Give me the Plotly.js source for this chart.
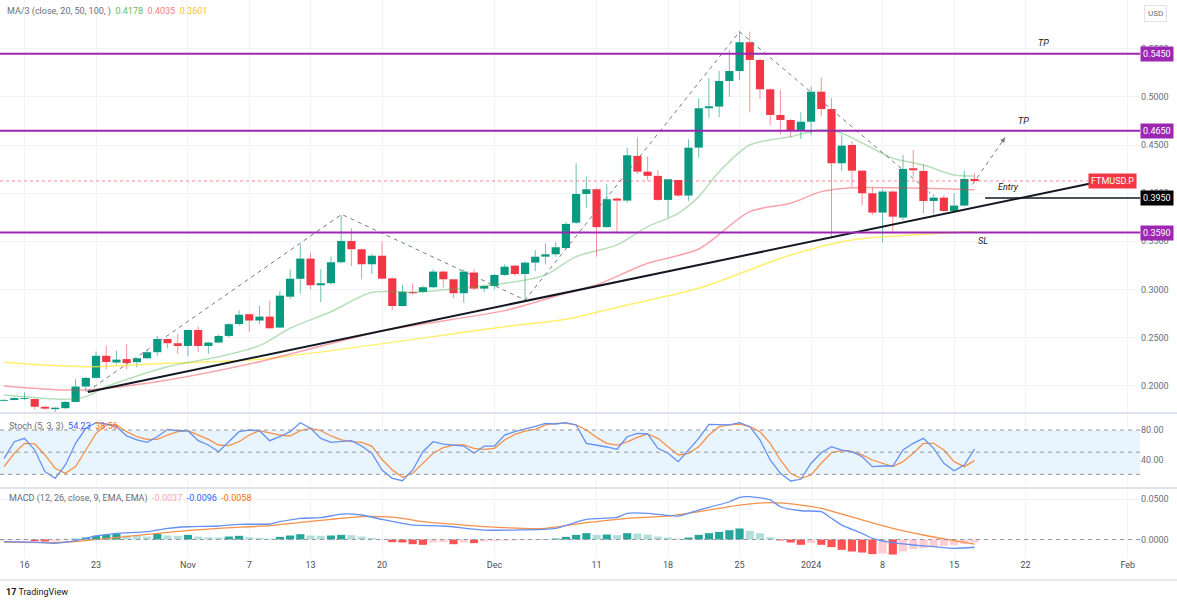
<!DOCTYPE html>
<html><head><meta charset="utf-8">
<script src="https://cdn.plot.ly/plotly-3.0.1.min.js"></script>
<style>html,body{margin:0;padding:0;background:#fff;}#chart{width:1177px;height:606px;}</style>
</head><body><div id="chart"></div>
<script>
// ---------- DATA ----------
const firstDay = '2023-10-14';
const openP  = [0.1842,0.1850,0.1862,0.1860,0.1780,0.1755,0.1765,0.1830,0.1990,0.2080,0.2310,0.2240,0.2275,0.2243,0.2284,0.2347,0.2484,0.2440,0.2412,0.2578,0.2412,0.2447,0.2516,0.2640,0.2742,0.2676,0.2717,0.2603,0.2924,0.3110,0.3320,0.3043,0.3064,0.3282,0.3503,0.3417,0.3261,0.3350,0.3115,0.2827,0.2973,0.2973,0.3022,0.3185,0.3105,0.2960,0.3175,0.3008,0.3035,0.3150,0.3247,0.3160,0.3278,0.3340,0.3365,0.3430,0.3693,0.3992,0.4041,0.3647,0.3944,0.3923,0.4387,0.4224,0.4180,0.3930,0.4137,0.3975,0.4473,0.4883,0.4900,0.5166,0.5270,0.5569,0.5385,0.5080,0.4813,0.4761,0.4657,0.4743,0.5055,0.4875,0.4311,0.4501,0.4234,0.3999,0.3798,0.4017,0.3746,0.4259,0.4231,0.3919,0.3954,0.3815,0.3871,0.4148];
const highP  = [0.1858,0.1880,0.1930,0.1865,0.1790,0.1780,0.1840,0.2066,0.2090,0.2353,0.2415,0.2364,0.2432,0.2290,0.2370,0.2516,0.2490,0.2536,0.2580,0.2613,0.2455,0.2530,0.2650,0.2786,0.2750,0.2827,0.2883,0.2983,0.3209,0.3469,0.3381,0.3210,0.3340,0.3773,0.3635,0.3425,0.3370,0.3497,0.3125,0.3046,0.3063,0.3040,0.3209,0.3195,0.3110,0.3209,0.3209,0.3040,0.3160,0.3260,0.3255,0.3290,0.3410,0.3479,0.3490,0.3700,0.4310,0.4172,0.4050,0.4096,0.3955,0.4473,0.4580,0.4380,0.4240,0.4150,0.4140,0.4560,0.4986,0.5194,0.5270,0.5489,0.5679,0.5679,0.5400,0.5090,0.5073,0.4770,0.4841,0.5107,0.5201,0.4990,0.4605,0.4540,0.4240,0.4060,0.4040,0.4030,0.4397,0.4449,0.4300,0.3990,0.3980,0.3999,0.4234,0.4207];
const lowP   = [0.1835,0.1845,0.1850,0.1750,0.1750,0.1710,0.1755,0.1825,0.1935,0.2075,0.2170,0.2218,0.2170,0.2190,0.2275,0.2308,0.2388,0.2329,0.2308,0.2349,0.2330,0.2440,0.2500,0.2620,0.2560,0.2640,0.2590,0.2595,0.2900,0.2960,0.3000,0.2869,0.3050,0.3270,0.3243,0.3105,0.3160,0.3105,0.2786,0.2820,0.2940,0.2965,0.3010,0.3020,0.2911,0.2862,0.2990,0.2970,0.3000,0.3140,0.3140,0.2890,0.3190,0.3260,0.3340,0.3420,0.3680,0.3850,0.3340,0.3640,0.3583,0.3900,0.4200,0.4130,0.3920,0.3750,0.3960,0.3920,0.4369,0.4779,0.4790,0.5003,0.5177,0.4841,0.4979,0.4709,0.4612,0.4580,0.4563,0.4600,0.4800,0.3531,0.4231,0.4068,0.3877,0.3773,0.3490,0.3600,0.3720,0.4170,0.3790,0.3780,0.3800,0.3810,0.3860,0.4120];
const closeP = [0.1848,0.1870,0.1868,0.1780,0.1760,0.1770,0.1830,0.1990,0.2080,0.2310,0.2245,0.2270,0.2234,0.2284,0.2347,0.2484,0.2440,0.2412,0.2578,0.2412,0.2447,0.2516,0.2638,0.2737,0.2676,0.2717,0.2596,0.2935,0.3111,0.3320,0.3043,0.3064,0.3282,0.3503,0.3417,0.3261,0.3350,0.3111,0.2827,0.2976,0.2960,0.3022,0.3185,0.3105,0.2960,0.3185,0.3008,0.3035,0.3150,0.3236,0.3160,0.3278,0.3340,0.3365,0.3438,0.3680,0.3992,0.4041,0.3647,0.3937,0.3923,0.4394,0.4224,0.4180,0.3930,0.4145,0.3975,0.4473,0.4883,0.4903,0.5166,0.5270,0.5569,0.5385,0.5080,0.4813,0.4761,0.4657,0.4743,0.5055,0.4875,0.4311,0.4494,0.4234,0.3999,0.3798,0.4017,0.3756,0.4252,0.4238,0.3919,0.3954,0.3815,0.3871,0.4148,0.4127];

const ma20Dates = ['2023-10-14','2023-10-20','2023-10-22','2023-10-24','2023-10-30','2023-11-04','2023-11-08','2023-11-11','2023-11-15','2023-11-19','2023-11-23','2023-11-26','2023-12-02','2023-12-06','2023-12-09','2023-12-13','2023-12-16','2023-12-19','2023-12-21','2023-12-23','2023-12-26','2023-12-30','2024-01-02','2024-01-04','2024-01-07','2024-01-09','2024-01-12','2024-01-15','2024-01-17'];
const ma20 = [0.1902,0.1858,0.1885,0.1989,0.2196,0.2300,0.2415,0.2596,0.2768,0.2970,0.2970,0.2994,0.3063,0.3150,0.3340,0.3462,0.3652,0.3791,0.3964,0.4223,0.4501,0.4587,0.4657,0.4623,0.4467,0.4363,0.4293,0.4189,0.4178];
const ma50Dates = ['2023-10-14','2023-10-20','2023-10-23','2023-10-30','2023-11-08','2023-11-20','2023-12-02','2023-12-08','2023-12-11','2023-12-16','2023-12-21','2023-12-26','2023-12-30','2024-01-02','2024-01-05','2024-01-12','2024-01-17'];
const ma50 = [0.1996,0.1954,0.1962,0.2058,0.2248,0.2568,0.2779,0.2960,0.3046,0.3271,0.3420,0.3808,0.3895,0.4016,0.4057,0.4051,0.4035];
const ma100Dates = ['2023-10-14','2023-10-22','2023-10-30','2023-11-08','2023-12-02','2023-12-08','2023-12-14','2023-12-21','2023-12-30','2024-01-05','2024-01-12','2024-01-17'];
const ma100 = [0.2242,0.2196,0.2232,0.2273,0.2612,0.2689,0.2838,0.3011,0.3358,0.3514,0.3573,0.3601];

const stochK = [41.7,64.2,68.7,52.9,23.6,14.6,32.6,62,82.3,89.9,88.1,84.5,71.9,66.5,63.3,70.9,80.9,79,79,65.5,59.7,50.6,64.2,77.7,80,79,65.5,70.9,77.7,89.9,82.3,68.7,63.3,64.2,65.5,58.3,48.5,25.9,14.6,11.4,25.9,50.6,64.2,61,59.7,58.3,48.5,58.3,58.3,73.2,77.7,80.9,85,89,88.1,89.9,86.8,62,59.7,57,53.9,70.9,75.5,74.6,55.2,48.5,37.1,52.9,68.7,87.7,87.7,86.8,89.9,84.5,66.5,39.4,21.4,11,13.3,35,49.3,57.4,52.9,50.6,43.9,30.4,31.3,31.3,52.9,62,68.7,55.2,35,24.9,32.6,54.23];
const stochD = [30.4,48.5,62,61.1,46.2,28.2,21.4,30.4,52.9,75.5,86.8,86.8,77.7,70.9,67.4,67.4,73.2,77.7,79,73.2,67.4,59.7,58.8,64.2,73.2,79,76.3,73.2,71.9,79,82.3,79,71.9,66.5,64.2,63.3,58.3,40,26,16,21.4,35,48.5,56,59.7,59.7,55.2,53.9,55.2,66.5,74,78.5,80.9,86.8,89,89,87,80,70,62,59.5,64,70,74.6,68.7,57.4,46.2,48.5,57.4,73.2,84.5,86.8,88.1,84.5,77.7,62,39.4,21.4,14.6,19.1,35,49.3,52,50.6,46.2,39.4,35,30.4,37.1,48.5,62,62,52.9,37.1,30.4,38.56];

const macdHist = [-0.0012,-0.0010,-0.0008,-0.0020,-0.0025,-0.0015,-0.0008,0.0010,0.0025,0.0046,0.0058,0.0070,0.0050,0.0046,0.0037,0.0070,0.0050,0.0046,0.0058,0.0037,0.0029,0.0025,0.0037,0.0046,0.0029,0.0021,0.0012,0.0033,0.0050,0.0066,0.0050,0.0046,0.0050,0.0058,0.0054,0.0037,0.0020,0.0005,-0.0033,-0.0037,-0.0058,-0.0066,-0.0037,-0.0033,-0.0058,-0.0037,-0.0045,-0.0025,-0.0017,-0.0015,-0.0012,-0.0008,-0.0004,0.0004,0.0012,0.0033,0.0058,0.0079,0.0058,0.0062,0.0054,0.0079,0.0075,0.0062,0.0037,0.0025,0.0012,0.0025,0.0058,0.0079,0.0095,0.0116,0.0137,0.0108,0.0079,0.0029,-0.0012,-0.0037,-0.0066,-0.0045,-0.0066,-0.0095,-0.0129,-0.0149,-0.0162,-0.0182,-0.0175,-0.0187,-0.0149,-0.0120,-0.0105,-0.0090,-0.0079,-0.0070,-0.0055,-0.0037];
const macdDates = ['2023-10-14','2023-10-17','2023-10-19','2023-10-21','2023-10-23','2023-10-25','2023-10-28','2023-10-30','2023-11-01','2023-11-04','2023-11-06','2023-11-09','2023-11-10','2023-11-12','2023-11-14','2023-11-16','2023-11-18','2023-11-20','2023-11-22','2023-11-23','2023-11-26','2023-11-30','2023-12-03','2023-12-07','2023-12-10','2023-12-13','2023-12-14','2023-12-16','2023-12-19','2023-12-21','2023-12-24','2023-12-25','2023-12-26','2023-12-28','2023-12-29','2023-12-31','2024-01-02','2024-01-03','2024-01-04','2024-01-06','2024-01-07','2024-01-09','2024-01-11','2024-01-13','2024-01-15','2024-01-17'];
const macdLine = [-0.0027,-0.0033,-0.0047,-0.0015,0.0044,0.0077,0.0097,0.0139,0.0159,0.0168,0.0189,0.0193,0.0222,0.0264,0.0272,0.0317,0.0305,0.0250,0.0201,0.0180,0.0168,0.0118,0.0118,0.0139,0.0251,0.0276,0.0326,0.0326,0.0292,0.0367,0.0470,0.0525,0.0533,0.0492,0.0408,0.0358,0.0346,0.0264,0.0180,0.0077,0.0015,-0.0040,-0.0068,-0.0089,-0.0109,-0.0096];
const signalDates = ['2023-10-14','2023-10-19','2023-10-21','2023-10-25','2023-10-30','2023-11-04','2023-11-09','2023-11-12','2023-11-15','2023-11-18','2023-11-20','2023-11-22','2023-11-24','2023-11-28','2023-12-02','2023-12-06','2023-12-10','2023-12-14','2023-12-18','2023-12-21','2023-12-25','2023-12-28','2023-12-31','2024-01-02','2024-01-06','2024-01-09','2024-01-12','2024-01-15','2024-01-17'];
const signalLine = [-0.0033,-0.0037,-0.0025,0.0023,0.0090,0.0139,0.0172,0.0213,0.0251,0.0284,0.0284,0.0264,0.0222,0.0180,0.0147,0.0139,0.0209,0.0264,0.0292,0.0346,0.0429,0.0458,0.0429,0.0388,0.0243,0.0139,0.0056,-0.0015,-0.0058];

const xTickDates = ['2023-10-16','2023-10-23','2023-11-01','2023-11-07','2023-11-13','2023-11-20','2023-12-01','2023-12-11','2023-12-18','2023-12-25','2024-01-01','2024-01-08','2024-01-15','2024-01-22','2024-02-01'];
const xTickText = ['16','23','Nov','7','13','20','Dec','11','18','25','2024','8','15','22','Feb'];
const priceTicks = [0.20,0.25,0.30,0.35,0.40,0.45,0.50,0.55];

const levelPrices = [0.5450,0.4650,0.3590];
const entryPrice = 0.3950;
const lastPrice = 0.4127;
const zigzagTimes = ['2023-10-22 03:00','2023-11-16 01:00','2023-12-04 00:00','2023-12-25 00:00','2024-01-12 16:00'];
const zigzagPrices = [0.1937,0.3780,0.2890,0.5679,0.4002];
const projTimes = ['2024-01-16 19:00','2024-01-20 00:00'];
const projPrices = [0.4090,0.4580];
const trendTimes = ['2023-10-22 05:00','2024-01-28 14:00'];
const trendPrices = [0.1933,0.4106];

// ---------- BUILD ----------
function dayStr(start,n){return new Date(Date.parse(start+'T00:00:00Z')+n*86400000).toISOString().slice(0,10);}
const dates = openP.map((_,i)=>dayStr(firstDay,i));
const UP='#089981', DN='#f23645';
const minBody=0.0009;
const bodyBase=[],bodyLen=[],bodyCol=[];
const wUx=[],wUy=[],wDx=[],wDy=[];
openP.forEach((o,i)=>{
  const c=closeP[i], lo=Math.min(o,c), hi=Math.max(o,c);
  let len=Math.max(hi-lo,minBody);
  bodyBase.push(lo); bodyLen.push(len);
  const up=c>=o; bodyCol.push(up?UP:DN);
  const X=up?wUx:wDx, Y=up?wUy:wDy;
  X.push(dates[i],dates[i],null,dates[i],dates[i],null);
  Y.push(lowP[i],lo,null,lo+len,highP[i],null);
});
const histCol=macdHist.map((h,i)=>{const p=i>0?macdHist[i-1]:h; return h>=0?(h>p?'#26a69a':'#b2dfdb'):(h<p?'#ff5252':'#ffcdd2');});
const DAY=86400000;
const traces=[
 {type:'bar',x:dates,base:bodyBase,y:bodyLen,width:0.8*DAY,marker:{color:bodyCol,line:{width:0}},xaxis:'x',yaxis:'y',hoverinfo:'skip'},
 {type:'bar',x:dates,y:macdHist,width:0.8*DAY,marker:{color:histCol,line:{width:0}},xaxis:'x',yaxis:'y3',hoverinfo:'skip'},
 {type:'scatter',mode:'lines',x:wUx,y:wUy,line:{color:'rgba(8,153,129,0.6)',width:1},xaxis:'x',yaxis:'y',connectgaps:false},
 {type:'scatter',mode:'lines',x:wDx,y:wDy,line:{color:'rgba(242,54,69,0.55)',width:1},xaxis:'x',yaxis:'y',connectgaps:false},
 {type:'scatter',mode:'lines',x:ma100Dates,y:ma100,line:{color:'rgba(255,235,59,0.75)',width:1.5,shape:'spline',smoothing:0.8},xaxis:'x',yaxis:'y'},
 {type:'scatter',mode:'lines',x:ma50Dates,y:ma50,line:{color:'rgba(242,54,69,0.45)',width:1.5,shape:'spline',smoothing:0.8},xaxis:'x',yaxis:'y'},
 {type:'scatter',mode:'lines',x:ma20Dates,y:ma20,line:{color:'rgba(76,175,80,0.4)',width:1.5,shape:'spline',smoothing:0.8},xaxis:'x',yaxis:'y'},
 {type:'scatter',mode:'lines',x:zigzagTimes,y:zigzagPrices,line:{color:'#787b86',width:1,dash:'4px,4px'},xaxis:'x',yaxis:'y'},
 {type:'scatter',mode:'lines',x:projTimes,y:projPrices,line:{color:'#787b86',width:1,dash:'4px,4px'},xaxis:'x',yaxis:'y'},
 {type:'scatter',mode:'lines',x:trendTimes,y:trendPrices,line:{color:'#131722',width:2},xaxis:'x',yaxis:'y'},
 {type:'scatter',mode:'lines',x:dates,y:stochD,line:{color:'#f7914a',width:1.3},xaxis:'x',yaxis:'y2'},
 {type:'scatter',mode:'lines',x:dates,y:stochK,line:{color:'#6490f4',width:1.3},xaxis:'x',yaxis:'y2'},
 {type:'scatter',mode:'lines',x:signalDates,y:signalLine,line:{color:'#f7914a',width:1.3,shape:'spline',smoothing:0.6},xaxis:'x',yaxis:'y3'},
 {type:'scatter',mode:'lines',x:macdDates,y:macdLine,line:{color:'#6490f4',width:1.3,shape:'spline',smoothing:0.6},xaxis:'x',yaxis:'y3'}
];

const PH=558, PW=1140;
const py=v=>1-v/PH;
const GRID='#f0f3fa', TXT='#6a6d78';
const FONT='Roboto, Arial, sans-serif';
const shapes=[
 {type:'rect',xref:'paper',yref:'y2',x0:0,x1:1,y0:20,y1:80,fillcolor:'rgba(33,150,243,0.1)',line:{width:0},layer:'below'},
 ...[80,50,20].map(v=>({type:'line',xref:'paper',yref:'y2',x0:0,x1:1,y0:v,y1:v,line:{color:'#9598a1',width:1,dash:'4px,4px'}})),
 {type:'line',xref:'paper',yref:'y3',x0:0,x1:1,y0:0,y1:0,line:{color:'#9598a1',width:1,dash:'4px,4px'}},
 {type:'line',xref:'paper',yref:'y',x0:0,x1:1,y0:lastPrice,y1:lastPrice,line:{color:'rgba(242,54,69,0.6)',width:1,dash:'dot'}},
 ...levelPrices.map(v=>({type:'line',xref:'paper',yref:'y',x0:0,x1:1,y0:v,y1:v,line:{color:'#9c27b0',width:2},layer:'above'})),
 {type:'line',xref:'x',yref:'y',x0:'2024-01-18 01:00',x1:'2024-02-06',y0:entryPrice,y1:entryPrice,line:{color:'#131722',width:1.5}},
 {type:'line',xref:'paper',yref:'paper',x0:0,x1:1177/PW,y0:py(413),y1:py(413),line:{color:'#e0e3eb',width:2}},
 {type:'line',xref:'paper',yref:'paper',x0:0,x1:1177/PW,y0:py(488),y1:py(488),line:{color:'#e0e3eb',width:2}},
 {type:'line',xref:'paper',yref:'paper',x0:0,x1:1177/PW,y0:py(580),y1:py(580),line:{color:'#e0e3eb',width:1.5}}
];
function axLabel(v,txt,bg){return {xref:'paper',yref:'y',x:1,y:v,xanchor:'left',yanchor:'middle',text:txt,showarrow:false,bgcolor:bg,font:{family:FONT,size:9,color:'#ffffff'},borderpad:2,xshift:0};}
const annotations=[
 ...levelPrices.map(v=>axLabel(v,v.toFixed(4),'#9c27b0')),
 axLabel(entryPrice,entryPrice.toFixed(4),'#000000'),
 {xref:'paper',yref:'y',x:1,y:lastPrice,xanchor:'right',yanchor:'middle',text:'FTMUSD.P',showarrow:false,bgcolor:'#f23645',font:{family:FONT,size:9,color:'#fff'},borderpad:2,xshift:-3},
 {xref:'paper',yref:'paper',x:1,y:py(13),xanchor:'left',yanchor:'middle',xshift:4,text:'USD',showarrow:false,bordercolor:'#e0e3eb',borderwidth:1,borderpad:3,font:{family:FONT,size:8,color:TXT}},
 {xref:'x',yref:'y',x:'2024-01-23 18:00',y:0.5561,text:'<i>TP</i>',showarrow:false,font:{family:FONT,size:9,color:'#131722'}},
 {xref:'x',yref:'y',x:'2024-01-21 19:00',y:0.4750,text:'<i>TP</i>',showarrow:false,font:{family:FONT,size:9,color:'#131722'}},
 {xref:'x',yref:'y',x:'2024-01-20 07:00',y:0.4064,text:'<i>Entry</i>',showarrow:false,font:{family:FONT,size:9,color:'#131722'}},
 {xref:'x',yref:'y',x:'2024-01-17 20:00',y:0.3503,text:'<i>SL</i>',showarrow:false,font:{family:FONT,size:9,color:'#131722'}},
 {xref:'x',yref:'y',axref:'x',ayref:'y',x:projTimes[1],y:projPrices[1],ax:'2024-01-19 12:00',ay:0.4505,showarrow:true,arrowhead:2,arrowsize:1,arrowwidth:1,arrowcolor:'#787b86',text:''},
 {xref:'paper',yref:'paper',x:5/PW,y:py(12),xanchor:'left',yanchor:'middle',showarrow:false,align:'left',font:{family:FONT,size:9,color:TXT},
  text:'MA/3 (close, 20, 50, 100, )  <span style="color:#66bb6a">0.4178</span>  <span style="color:#f77c80">0.4035</span>  <span style="color:#fbc02d">0.3601</span>'},
 {xref:'paper',yref:'paper',x:7/PW,y:py(426),xanchor:'left',yanchor:'middle',showarrow:false,align:'left',font:{family:FONT,size:9,color:TXT},
  text:'Stoch (5, 3, 3)  <span style="color:#2962ff">54.23</span>  <span style="color:#ff6d00">38.56</span>'},
 {xref:'paper',yref:'paper',x:7/PW,y:py(499),xanchor:'left',yanchor:'middle',showarrow:false,align:'left',font:{family:FONT,size:9,color:TXT},
  text:'MACD (12, 26, close, 9, EMA, EMA)  <span style="color:#f7a9b4">-0.0037</span>  <span style="color:#2962ff">-0.0096</span>  <span style="color:#ff6d00">-0.0058</span>'},
 {xref:'paper',yref:'paper',x:4/PW,y:py(592),xanchor:'left',yanchor:'middle',showarrow:false,font:{family:FONT,size:9,color:'#131722'},text:'<b>17</b> TradingView'}
];
const axCommon={showgrid:true,gridcolor:GRID,gridwidth:1,zeroline:false,showline:false,ticks:'',fixedrange:true,tickfont:{family:FONT,size:9,color:TXT}};
const layout={
 width:1177,height:606,margin:{l:0,r:37,t:0,b:48},paper_bgcolor:'#fff',plot_bgcolor:'#fff',showlegend:false,barmode:'overlay',
 font:{family:FONT},
 xaxis:Object.assign({},axCommon,{type:'date',anchor:'y3',range:['2023-10-13 14:24','2024-02-02 04:48'],tickmode:'array',tickvals:xTickDates,ticktext:xTickText,tickfont:{family:FONT,size:9,color:'#4a4d58'}}),
 yaxis:Object.assign({},axCommon,{domain:[py(413),1],range:[0.1715,0.6008],side:'right',anchor:'x',tickmode:'array',tickvals:priceTicks,ticktext:priceTicks.map(v=>v.toFixed(4))}),
 yaxis2:Object.assign({},axCommon,{domain:[py(488),py(413)],range:[1.5,103],side:'right',anchor:'x',tickmode:'array',tickvals:[40,80],ticktext:['40.00','80.00']}),
 yaxis3:Object.assign({},axCommon,{domain:[0,py(488)],range:[-0.023,0.0641],side:'right',anchor:'x',tickmode:'array',tickvals:[0,0.05],ticktext:['0.0000','0.0500']}),
 shapes:shapes,annotations:annotations
};
Plotly.newPlot('chart',traces,layout,{displayModeBar:false,staticPlot:true});
</script></body></html>
